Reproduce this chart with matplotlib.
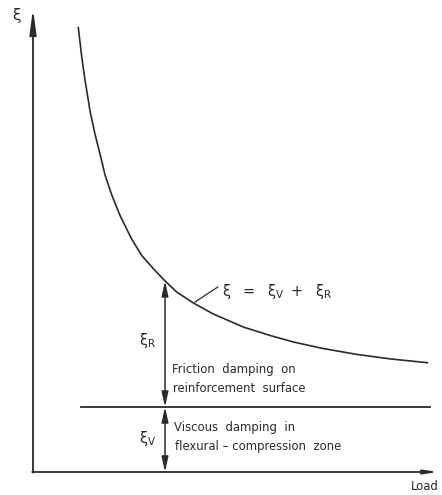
import matplotlib
matplotlib.use("Agg")
import matplotlib.pyplot as plt

# Total damping ratio versus load (schematic)
load = [1.13, 1.22, 1.30, 1.43, 1.55, 1.72, 1.80, 1.97, 2.18, 2.47, 2.72, 3.05,
        3.30, 3.59, 4.01, 4.51, 5.26, 5.93, 6.51, 7.25, 8.09, 8.93, 9.88]
xi_total = [6.85, 6.38, 6.03, 5.54, 5.20, 4.78, 4.57, 4.26, 3.94, 3.58, 3.33, 3.10,
            2.94, 2.77, 2.60, 2.43, 2.23, 2.10, 2.00, 1.90, 1.81, 1.74, 1.68]
xi_viscous = 1.0
viscous_range = [1.2, 9.925]
load_mark = 3.30
xi_mark = 2.94

ink = "#2b2b2b"
plt.rcParams["font.family"] = ["DejaVu Sans"]

fig = plt.figure(figsize=(4.42, 4.95), dpi=100)
ax = fig.add_axes([0, 0, 1, 1])
ax.set_xlim(-0.825, 10.225)
ax.set_ylim(-0.354, 7.262)
ax.axis("off")

# axes drawn as arrows
ax.annotate("", xy=(0, 7.13), xytext=(0, -0.01),
            arrowprops=dict(arrowstyle="-|>,head_length=1.5,head_width=0.2",
                            color=ink, lw=1.3, shrinkA=0, shrinkB=0))
ax.annotate("", xy=(10.13, 0), xytext=(-0.02, 0),
            arrowprops=dict(arrowstyle="-|>,head_length=0.8,head_width=0.12",
                            color=ink, lw=1.3, shrinkA=0, shrinkB=0))

# total damping curve
ax.plot(load, xi_total, color=ink, lw=1.2, solid_capstyle="butt",
        solid_joinstyle="round")

# viscous damping level
ax.plot(viscous_range, [xi_viscous, xi_viscous], color=ink, lw=1.3)

# dimension arrows
dim = dict(arrowstyle="<|-|>,head_length=0.9,head_width=0.2", color=ink,
           lw=1.1, shrinkA=0, shrinkB=0)
ax.annotate("", xy=(load_mark, xi_mark), xytext=(load_mark, xi_viscous), arrowprops=dim)
ax.annotate("", xy=(load_mark, xi_viscous), xytext=(load_mark, 0), arrowprops=dim)

fs = 8.4
ax.text(-0.42, 7.03, "ξ", fontsize=11, ha="center", va="center", color=ink)
ax.text(2.87, 2.03, r"$\mathregular{ξ_R}$", fontsize=10.5, ha="center", va="center", color=ink)
ax.text(2.87, 0.52, r"$\mathregular{ξ_V}$", fontsize=10.5, ha="center", va="center", color=ink)

ax.text(3.47, 1.57, "Friction  damping  on", fontsize=fs, ha="left", va="center", color=ink)
ax.text(3.50, 1.29, "reinforcement  surface", fontsize=fs, ha="left", va="center", color=ink)
ax.text(3.52, 0.68, "Viscous  damping  in", fontsize=fs, ha="left", va="center", color=ink)
ax.text(3.54, 0.385, "flexural – compression  zone", fontsize=fs, ha="left", va="center", color=ink)
ax.text(9.8, -0.23, "Load", fontsize=fs, ha="center", va="center", color=ink)

# equation label with leader line
ax.plot([4.05, 4.62], [2.615, 2.846], color=ink, lw=0.9)
ax.text(4.72, 2.77, r"$\mathregular{ξ\ \ =\ \ ξ_V\ +\ \ ξ_R}$", fontsize=10.5,
        ha="left", va="center", color=ink)

fig.savefig("out.png", dpi=100)
